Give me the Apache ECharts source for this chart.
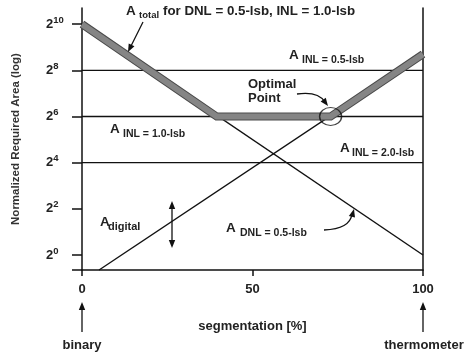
<!DOCTYPE html>
<html>
<head>
<meta charset="utf-8">
<script src="https://cdn.jsdelivr.net/npm/echarts@6/dist/echarts.min.js"></script>
<style>
  html, body { margin: 0; padding: 0; background: #fff; }
  #chart { width: 473px; height: 356px; }
</style>
</head>
<body>
<div id="chart"></div>
<script>
// values are log2 of the normalized area
const totalSeg = [0, 39.5, 72.9, 100];
const totalLog2 = [10, 6, 6, 8.7];
const dnlSeg = [0, 100];
const dnlLog2 = [10, 0];
const digitalSeg = [5, 100];
const digitalLog2 = [-0.65, 8.7];
const inlLevels = [8, 6, 4]; // INL = 0.5, 1.0, 2.0 lsb
const optimalPoint = [72.9, 6];
const yTicks = [0, 2, 4, 6, 8, 10];
const yMin = -0.65, yMax = 10.7;

const FONT = '"Liberation Sans", Arial, sans-serif';
const INK = '#111';
const TXT = '#222';

const chart = echarts.init(document.getElementById('chart'), null, { renderer: 'canvas' });

function pairs(xs, ys) {
  return xs.map((x, i) => [x, ys[i]]);
}

function thin(name, data) {
  return {
    name: name, type: 'line', data: data, symbol: 'none', clip: false,
    lineStyle: { color: INK, width: 1.4 }, z: 2
  };
}

function txt(x, y, text, size, extra) {
  return {
    type: 'text', x: x, y: y, z: 10,
    style: Object.assign({
      text: text, fontSize: size, fontWeight: 'bold', fontFamily: FONT,
      fill: TXT, verticalAlign: 'middle', align: 'left'
    }, extra || {})
  };
}

function seg(x1, y1, x2, y2) {
  return { type: 'line', z: 10, shape: { x1, y1, x2, y2 }, style: { stroke: INK, lineWidth: 1.3 } };
}

// filled arrow head with tip at (tx,ty) coming from (fx,fy)
function head(tx, ty, fx, fy, len, w) {
  len = len || 8; w = w || 3.2;
  const dx = tx - fx, dy = ty - fy;
  const d = Math.sqrt(dx * dx + dy * dy);
  const ux = dx / d, uy = dy / d;
  const bx = tx - ux * len, by = ty - uy * len;
  return {
    type: 'polygon', z: 10,
    shape: { points: [[tx, ty], [bx - uy * w, by + ux * w], [bx + uy * w, by - ux * w]] },
    style: { fill: INK }
  };
}

function curve(x1, y1, cx, cy, x2, y2) {
  return {
    type: 'bezierCurve', z: 10,
    shape: { x1, y1, x2, y2, cpx1: cx, cpy1: cy },
    style: { stroke: INK, lineWidth: 1.3, fill: null }
  };
}

const option = {
  animation: false,
  backgroundColor: '#fff',
  grid: { left: 82, right: 50, top: 8, bottom: 86 },
  xAxis: {
    type: 'value', min: 0, max: 100, interval: 50,
    name: 'segmentation [%]', nameLocation: 'middle', nameGap: 50,
    nameTextStyle: { fontSize: 13, fontWeight: 'bold', fontFamily: FONT, color: TXT },
    axisLine: { onZero: false, lineStyle: { color: INK, width: 1.5 } },
    axisTick: { length: 6, lineStyle: { color: INK, width: 1.5 } },
    axisLabel: { margin: 13, fontSize: 13, fontWeight: 'bold', fontFamily: FONT, color: TXT },
    splitLine: { show: false }
  },
  yAxis: [{
    type: 'value', min: yMin, max: yMax,
    name: 'Normalized Required Area (log)', nameLocation: 'middle', nameGap: 60,
    nameTextStyle: { fontSize: 11.5, fontWeight: 'bold', fontFamily: FONT, color: '#333' },
    axisLine: { onZero: false, lineStyle: { color: INK, width: 1.5 } },
    axisTick: { customValues: [yMin].concat(yTicks), length: 10, lineStyle: { color: INK, width: 1.5 } },
    axisLabel: {
      customValues: yTicks, align: 'left', margin: 36,
      formatter: function (v) { return '{b|2}{s|' + v + '}'; },
      rich: {
        b: { fontSize: 13, fontWeight: 'bold', fontFamily: FONT, color: TXT },
        s: { fontSize: 9.5, fontWeight: 'bold', fontFamily: FONT, color: TXT, padding: [0, 0, 8, 0] }
      }
    },
    splitLine: { show: false }
  }, {
    type: 'value', min: yMin, max: yMax, position: 'right',
    axisLine: { show: true, onZero: false, lineStyle: { color: INK, width: 1.5 } },
    axisTick: { show: false }, axisLabel: { show: false }, splitLine: { show: false }
  }],
  series: [
    thin('A INL = 0.5-lsb', [[0, inlLevels[0]], [100, inlLevels[0]]]),
    thin('A INL = 1.0-lsb', [[0, inlLevels[1]], [100, inlLevels[1]]]),
    thin('A INL = 2.0-lsb', [[0, inlLevels[2]], [100, inlLevels[2]]]),
    thin('A DNL = 0.5-lsb', pairs(dnlSeg, dnlLog2)),
    thin('A digital', pairs(digitalSeg, digitalLog2)),
    {
      name: 'total edge', type: 'line', data: pairs(totalSeg, totalLog2), symbol: 'none', clip: false,
      lineStyle: { color: '#4a4a4a', width: 8, join: 'miter' }, z: 3
    },
    {
      name: 'A total', type: 'line', data: pairs(totalSeg, totalLog2), symbol: 'none', clip: false,
      lineStyle: { color: '#858585', width: 6, join: 'miter' }, z: 4
    },
    {
      name: 'Optimal Point', type: 'scatter', data: [optimalPoint], symbol: 'circle', symbolSize: [22, 18],
      itemStyle: { color: 'rgba(0,0,0,0)', borderColor: INK, borderWidth: 1.3 }, z: 5
    }
  ],
  graphic: [
    // title
    txt(126, 11, 'A', 13.5),
    txt(139, 15.5, 'total', 9.5),
    txt(163, 11, 'for DNL = 0.5-lsb, INL = 1.0-lsb', 13.3),
    seg(143, 22, 131, 46), head(128, 52, 143, 22),
    // INL labels
    txt(289, 55, 'A', 13.5), txt(302, 60, 'INL = 0.5-lsb', 10.5),
    txt(110, 129, 'A', 13.5), txt(123, 134, 'INL = 1.0-lsb', 10.5),
    txt(340, 148, 'A', 13.5), txt(352, 153, 'INL = 2.0-lsb', 10.5),
    // digital
    txt(100, 222, 'A', 13.5), txt(108, 226.5, 'digital', 11),
    seg(172, 205, 172, 244), head(172, 201, 172, 215), head(172, 248, 172, 234),
    // DNL
    txt(226, 228.5, 'A', 13.5), txt(240, 233, 'DNL = 0.5-lsb', 10.5),
    curve(324, 230, 350, 229, 352, 214), head(354, 209, 351, 220),
    // optimal point
    txt(248, 84, 'Optimal', 13), txt(248, 98.5, 'Point', 13),
    curve(297, 94, 318, 91, 325, 102), head(328, 106, 322, 98),
    // binary / thermometer
    txt(82, 345, 'binary', 13, { align: 'center' }),
    seg(82, 332, 82, 308), head(82, 302, 82, 320),
    txt(424, 345, 'thermometer', 13, { align: 'center' }),
    seg(423, 332, 423, 308), head(423, 302, 423, 320)
  ]
};

chart.setOption(option);
</script>
</body>
</html>
